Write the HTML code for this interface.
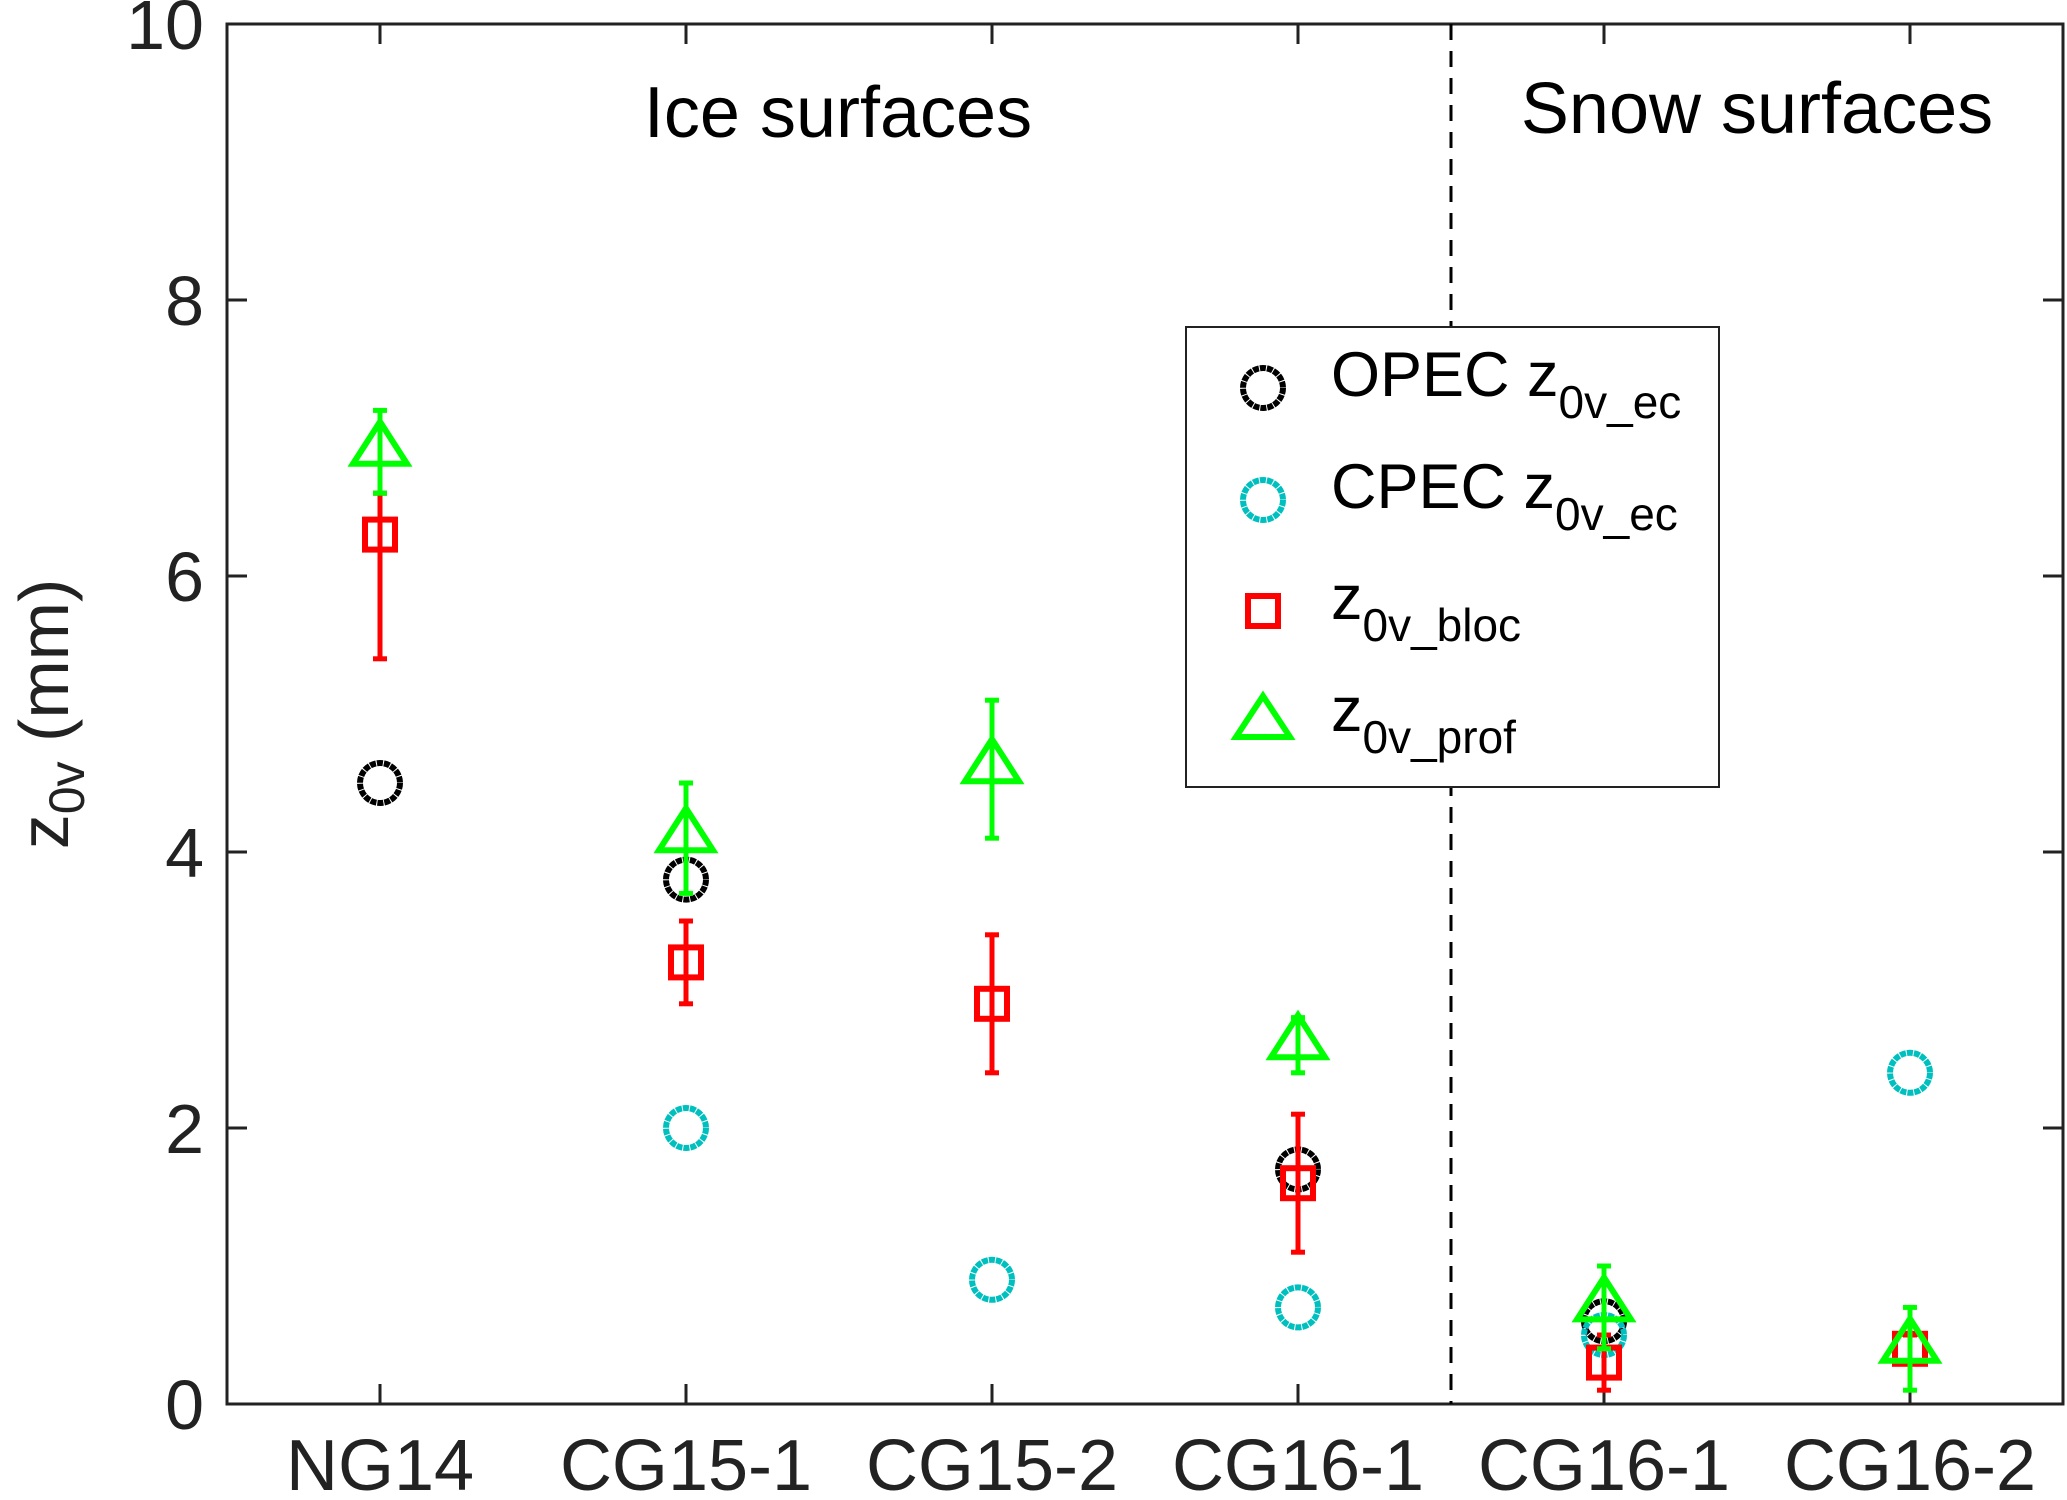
<!DOCTYPE html>
<html><head><meta charset="utf-8"><style>
html,body{margin:0;padding:0;background:#fff}
svg{display:block;font-family:"Liberation Sans",Arial,sans-serif}
</style></head><body>
<svg id="chart" width="2067" height="1500" viewBox="0 0 2067 1500">
<g id="axes"></g><g id="marks"></g>
<text x="838" y="137" font-size="72" text-anchor="middle" fill="#000">Ice surfaces</text>
<text x="1757" y="133" font-size="72" text-anchor="middle" fill="#000">Snow surfaces</text>
<text transform="translate(68,714) rotate(-90)" font-size="70" text-anchor="middle" fill="#222">z<tspan font-size="50" dy="16">0v</tspan><tspan dy="-16"> (mm)</tspan></text>
<g>
<rect x="1186" y="327" width="533" height="460" fill="#fff" stroke="#222" stroke-width="2"/>
<circle cx="1263" cy="388" r="20" fill="none" stroke="#000" stroke-width="6" stroke-dasharray="6 1"/>
<text x="1331" y="396" font-size="63">OPEC z<tspan font-size="46" dy="22">0v_ec</tspan></text>
<circle cx="1263" cy="500" r="20" fill="none" stroke="#00bfbf" stroke-width="6" stroke-dasharray="6 1"/>
<text x="1331" y="508" font-size="63">CPEC z<tspan font-size="46" dy="22">0v_ec</tspan></text>
<rect x="1248" y="596" width="30" height="30" fill="none" stroke="#f00" stroke-width="6"/>
<text x="1331" y="619" font-size="63">z<tspan font-size="46" dy="22">0v_bloc</tspan></text>
<polygon points="1263,696 1290,737 1236,737" fill="none" stroke="#0f0" stroke-width="6"/>
<text x="1331" y="731" font-size="63">z<tspan font-size="46" dy="22">0v_prof</tspan></text>
</g>
</svg>
<script>
const categories=["NG14","CG15-1","CG15-2","CG16-1","CG16-1","CG16-2"];
const yTicks=[0,2,4,6,8,10];
const opec=[4.5,3.8,null,1.7,0.6,null];
const cpec=[null,2.0,0.9,0.7,0.5,2.4];
const bloc=[6.3,3.2,2.9,1.6,0.3,0.4];
const blocLo=[5.4,2.9,2.4,1.1,0.1,0.3];
const blocHi=[6.6,3.5,3.4,2.1,0.5,0.5];
const prof=[6.9,4.1,4.6,2.6,0.7,0.4];
const profLo=[6.6,3.7,4.1,2.4,0.4,0.1];
const profHi=[7.2,4.5,5.1,2.8,1.0,0.7];
const X0=227,X1=2063,Y0=1404,Y1=24;
const xs=i=>X0+(i+0.5)*(X1-X0)/categories.length;
const xf=v=>X0+v*(X1-X0)/categories.length;
const ys=v=>Y0-v*(Y0-Y1)/10;
const NS="http://www.w3.org/2000/svg";
function mk(p,t,a){const e=document.createElementNS(NS,t);for(const k in a)e.setAttribute(k,a[k]);p.appendChild(e);return e;}
const ax=document.getElementById('axes'),mg=document.getElementById('marks');
let e=mk(ax,'rect',{x:X0,y:Y1,width:X1-X0,height:Y0-Y1,fill:'none',stroke:'#222','stroke-width':3});


yTicks.forEach(v=>{
 mk(ax,'line',{x1:X0,x2:X0+20,y1:ys(v),y2:ys(v),stroke:'#222','stroke-width':3});
 mk(ax,'line',{x1:X1,x2:X1-20,y1:ys(v),y2:ys(v),stroke:'#222','stroke-width':3});
 const t=mk(ax,'text',{x:204,y:ys(v)+25,'font-size':70,'text-anchor':'end',fill:'#222'});
 t.textContent=v;
 
 
});
categories.forEach((c,i)=>{
 mk(ax,'line',{x1:xs(i),x2:xs(i),y1:Y0,y2:Y0-20,stroke:'#222','stroke-width':3});
 mk(ax,'line',{x1:xs(i),x2:xs(i),y1:Y1,y2:Y1+20,stroke:'#222','stroke-width':3});
 const t=mk(ax,'text',{x:xs(i),y:1490,'font-size':72,'text-anchor':'middle',fill:'#222'});
 t.textContent=c;
 
 
});
e=mk(ax,'line',{x1:xf(4),x2:xf(4),y1:Y1,y2:Y0,stroke:'#000','stroke-width':3,'stroke-dasharray':'16 11'});


function eb(i,lo,hi,col){
 const g=mk(mg,'g',{stroke:col,'stroke-width':5});
 
 
 mk(g,'line',{x1:xs(i),x2:xs(i),y1:ys(lo),y2:ys(hi)});
 mk(g,'line',{x1:xs(i)-7,x2:xs(i)+7,y1:ys(lo),y2:ys(lo)});
 mk(g,'line',{x1:xs(i)-7,x2:xs(i)+7,y1:ys(hi),y2:ys(hi)});
}
opec.forEach((v,i)=>{if(v==null)return;
 const c=mk(mg,'circle',{cx:xs(i),cy:ys(v),r:20,fill:'none',stroke:'#000','stroke-width':6,'stroke-dasharray':'6 1'});
 
 });
cpec.forEach((v,i)=>{if(v==null)return;
 const c=mk(mg,'circle',{cx:xs(i),cy:ys(v),r:20,fill:'none',stroke:'#00bfbf','stroke-width':6,'stroke-dasharray':'6 1'});
 
 });
bloc.forEach((v,i)=>{
 eb(i,blocLo[i],blocHi[i],'#f00');
 const r=mk(mg,'rect',{x:xs(i)-15,y:ys(v)-15,width:30,height:30,fill:'none',stroke:'#f00','stroke-width':6});
 
 });
prof.forEach((v,i)=>{
 eb(i,profLo[i],profHi[i],'#0f0');
 const x=xs(i),y=ys(v);
 const p=mk(mg,'polygon',{points:`${x},${y-30} ${x+27},${y+12} ${x-27},${y+12}`,fill:'none',stroke:'#0f0','stroke-width':6});
 
 });
</script>
</body></html>
